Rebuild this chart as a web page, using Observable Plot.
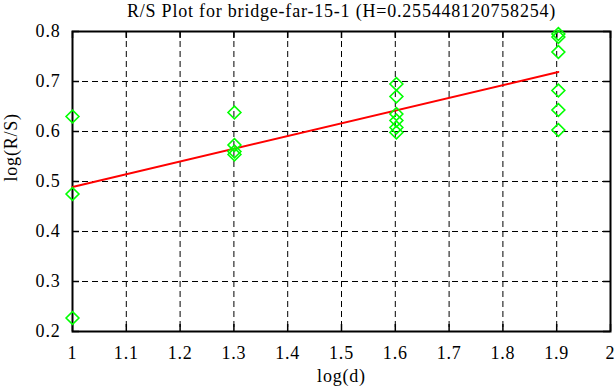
<!DOCTYPE html>
<html>
<head>
<meta charset="utf-8">
<script src="https://cdn.jsdelivr.net/npm/d3@7"></script>
<script src="https://cdn.jsdelivr.net/npm/@observablehq/plot@0.6"></script>
<style>
  html, body { margin: 0; padding: 0; background: #fff; }
  svg { display: block; }
</style>
</head>
<body>
<div id="chart"></div>
<script>
const titleText = "R/S Plot for bridge-far-15-1 (H=0.255448120758254)";
const xLabel = "log(d)";
const yLabel = "log(R/S)";

const pointX = [1, 1, 1,
  1.30103, 1.30103, 1.30103, 1.30103,
  1.60206, 1.60206, 1.60206, 1.60206, 1.60206, 1.60206,
  1.90309, 1.90309, 1.90309, 1.90309, 1.90309, 1.90309];
const pointY = [0.630, 0.475, 0.227,
  0.638, 0.573, 0.560, 0.554,
  0.695, 0.670, 0.635, 0.622, 0.608, 0.598,
  0.795, 0.789, 0.759, 0.682, 0.643, 0.603];

const fitX = [1, 1.90309];
const fitY = [0.489, 0.719];

const xTicks = [1, 1.1, 1.2, 1.3, 1.4, 1.5, 1.6, 1.7, 1.8, 1.9, 2];
const yTicks = [0.2, 0.3, 0.4, 0.5, 0.6, 0.7, 0.8];

const points = pointX.map((x, i) => ({x, y: pointY[i]}));
const fit = fitX.map((x, i) => ({x, y: fitY[i]}));

const W = 616, H = 387, mL = 72, mR = 6, mT = 31, mB = 56;
const pw = W - mL - mR, ph = H - mT - mB;
const tick = 7;
const font = "'Liberation Serif', 'Times New Roman', serif";
const fs = 18;

const chart = Plot.plot({
  width: W, height: H,
  marginLeft: mL, marginRight: mR, marginTop: mT, marginBottom: mB,
  style: {fontFamily: font, fontSize: fs + "px", letterSpacing: "0.8px", color: "black", background: "white"},
  x: {domain: [1, 2]},
  y: {domain: [0.2, 0.8]},
  marks: [
    Plot.gridX(xTicks.slice(1, -1), {stroke: "black", strokeOpacity: 1, strokeWidth: 1, strokeDasharray: "6,4"}),
    Plot.gridY(yTicks.slice(1, -1), {stroke: "black", strokeOpacity: 1, strokeWidth: 1, strokeDasharray: "6,4"}),
    Plot.ruleX(xTicks, {x: d => d, stroke: "black", strokeWidth: 1.5, insetTop: ph - tick}),
    Plot.ruleX(xTicks, {x: d => d, stroke: "black", strokeWidth: 1.5, insetBottom: ph - tick}),
    Plot.ruleY(yTicks, {y: d => d, stroke: "black", strokeWidth: 1.5, insetRight: pw - tick}),
    Plot.ruleY(yTicks, {y: d => d, stroke: "black", strokeWidth: 1.5, insetLeft: pw - tick}),
    Plot.axisX(xTicks, {tickSize: 0, tickPadding: 15, tickFormat: d => String(d), fontSize: fs, label: null}),
    Plot.axisY(yTicks, {tickSize: 0, tickPadding: 12, tickFormat: d => d.toFixed(1), fontSize: fs, label: null}),
    Plot.frame({stroke: "black", strokeWidth: 2}),
    Plot.line(fit, {x: "x", y: "y", stroke: "#ff0000", strokeWidth: 2}),
    Plot.dot(points, {x: "x", y: "y", symbol: "diamond2", r: 5.8, stroke: "#00ff00", strokeWidth: 1.6, fill: "none"}),
    Plot.text([titleText], {frameAnchor: "top", dy: -27, fontSize: fs, text: d => d}),
    Plot.text([xLabel], {frameAnchor: "bottom", dy: 50, fontSize: fs, text: d => d}),
    Plot.text([yLabel], {frameAnchor: "left", dx: -61, rotate: -90, fontSize: fs, text: d => d})
  ]
});
document.getElementById("chart").appendChild(chart);
</script>
</body>
</html>
